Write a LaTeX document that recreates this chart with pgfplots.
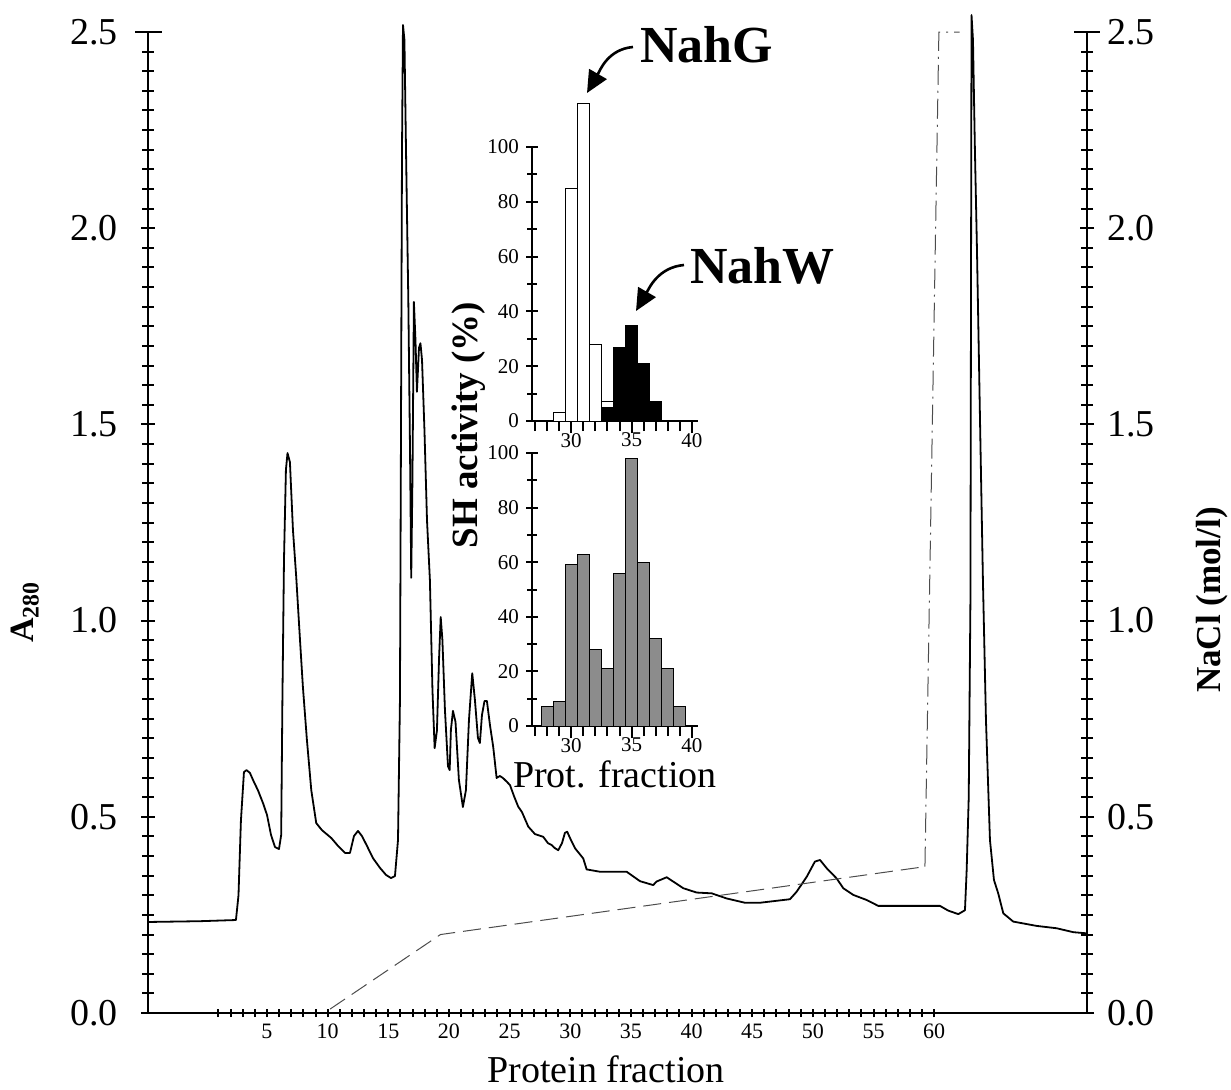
\documentclass[border=0pt]{standalone}
\usepackage{fontspec}
\setmainfont{Liberation Serif}
\usepackage{pgfplots}
\pgfplotsset{compat=1.18}
\usetikzlibrary{arrows.meta}

\pgfplotsset{
  base/.style={scale only axis, anchor=south west, clip=false,
    axis line style={line width=1pt},
    tick style={line width=1pt,black},
    /pgf/number format/assume math mode=true},
  noarrow/.style={x axis line style={-}, y axis line style={-}},
  mainbox/.style={base, at={(74pt,-506.5pt)}, width=469.5pt, height=490.5pt,
    xmin=-4.81, xmax=72.6, ymin=0, ymax=2.5},
  ylab/.style={ytick={0,0.5,1,1.5,2,2.5}, minor y tick num=9,
    tick align=outside, major tick length=7pt, minor tick length=6pt,
    yticklabel style={font=\fontsize{19}{19}\selectfont,
      /pgf/number format/fixed, /pgf/number format/fixed zerofill,
      /pgf/number format/precision=1}},
  inset/.style={base, width=83pt, xmin=26.75, xmax=40.5, ymin=0, ymax=100,
    axis x line=bottom, axis y line=left, noarrow,
    xtick={30,35,40}, minor xtick={27,...,40},
    ytick={0,20,...,100}, minor ytick={10,30,50,70,90},
    tick align=center, major tick length=6pt, minor tick length=5pt,
    ticklabel style={font=\fontsize{10.5}{10.5}\selectfont},
    xticklabel style={yshift=3.5pt},
    ybar, bar width=1, bar shift=0pt},
}

\begin{document}
\begin{tikzpicture}
\useasboundingbox (0,0) rectangle (615.5pt,-544.5pt);

% chromatogram, x axis
\begin{axis}[mainbox, axis x line=bottom, axis y line=none, noarrow,
  xtick={5,10,...,60}, minor xtick={1,...,60},
  tick align=center, major tick length=4pt, minor tick length=4pt,
  xticklabel style={font=\fontsize{11}{11}\selectfont}]
\addplot[black, line width=0.9pt, line join=round] coordinates {
(-4.81,0.232) (-0.53,0.234) (2.44,0.237) (2.65,0.30) (2.85,0.49) (3.10,0.614)
(3.31,0.619) (3.59,0.612) (3.92,0.589) (4.25,0.568) (4.67,0.535) (5.00,0.505)
(5.33,0.454) (5.66,0.423) (5.99,0.418) (6.17,0.454) (6.27,0.798) (6.40,1.154)
(6.56,1.384) (6.69,1.427) (6.89,1.404) (7.14,1.231) (7.41,1.111) (7.72,0.951)
(7.96,0.831) (8.29,0.696) (8.65,0.568) (9.06,0.484) (9.53,0.466) (10.30,0.446)
(10.85,0.426) (11.43,0.408) (11.84,0.408) (12.17,0.451) (12.50,0.464) (12.83,0.451)
(13.24,0.426) (13.73,0.395) (14.31,0.370) (14.81,0.352) (15.22,0.344) (15.55,0.349)
(15.80,0.441) (15.96,0.798) (16.04,1.435) (16.13,2.199) (16.21,2.518) (16.33,2.480)
(16.46,2.199) (16.65,1.817) (16.79,1.435) (16.89,1.109) (16.99,1.358) (17.11,1.812)
(17.24,1.715) (17.36,1.583) (17.53,1.695) (17.65,1.707) (17.78,1.664) (17.98,1.486)
(18.19,1.256) (18.43,1.103) (18.64,0.823) (18.82,0.675) (19.01,0.720) (19.18,0.900)
(19.32,1.009) (19.46,0.951) (19.67,0.772) (19.92,0.629) (20.06,0.619) (20.16,0.721)
(20.33,0.770) (20.54,0.742) (20.82,0.594) (21.15,0.525) (21.40,0.568) (21.65,0.747)
(21.92,0.866) (22.14,0.798) (22.39,0.701) (22.55,0.688) (22.72,0.759) (22.93,0.795)
(23.13,0.795) (23.38,0.734) (23.65,0.678) (23.93,0.599) (24.20,0.604) (24.45,0.599)
(24.78,0.589) (25.03,0.581) (25.36,0.553) (25.71,0.526) (26.02,0.512) (26.54,0.475)
(27.09,0.456) (27.77,0.449) (28.16,0.433) (28.47,0.428) (28.74,0.420) (29.01,0.415)
(29.32,0.433) (29.56,0.459) (29.75,0.462) (29.98,0.446) (30.39,0.420) (31.07,0.394)
(31.35,0.366) (32.45,0.360) (34.65,0.360) (35.75,0.336) (36.84,0.326) (37.11,0.335)
(37.95,0.346) (39.32,0.318) (40.42,0.307) (41.66,0.305) (42.89,0.292) (44.40,0.281)
(45.64,0.281) (48.11,0.290) (48.66,0.309) (49.49,0.347) (50.17,0.386) (50.59,0.390)
(51.14,0.369) (51.96,0.343) (52.51,0.318) (53.33,0.301) (54.44,0.288) (55.39,0.273)
(58.28,0.273) (60.48,0.273) (61.16,0.261) (61.99,0.252) (62.54,0.262) (62.68,0.364)
(62.85,0.550) (62.99,1.052) (63.08,2.543) (63.20,2.480) (63.36,2.199) (63.53,1.944)
(63.78,1.511) (64.02,1.103) (64.27,0.747) (64.60,0.441) (64.93,0.339) (65.28,0.305)
(65.70,0.254) (66.52,0.233) (68.45,0.222) (70.10,0.216) (71.47,0.206) (72.60,0.203)
};
% NaCl gradient
\addplot[black!70, line width=0.5pt, dash pattern=on 9pt off 4pt]
  coordinates {(10.2,0.01) (19.3,0.20) (59.24,0.373)};
\addplot[black!70, line width=0.5pt, dash pattern=on 10pt off 3pt on 1pt off 3pt]
  coordinates {(59.24,0.373) (60.39,2.5) (62.1,2.5)};
\end{axis}

% left A280 axis
\begin{axis}[mainbox, ylab, axis x line=none, axis y line=left, noarrow,
  yticklabel style={xshift=-8pt}]
\end{axis}
% right NaCl axis
\begin{axis}[mainbox, ylab, axis x line=none, axis y line=right, noarrow,
  yticklabel style={xshift=3pt}]
\end{axis}

% inset: NahG / NahW activity
\begin{axis}[inset, at={(266pt,-210.5pt)}, height=137pt]
\addplot[fill=white, draw=black, line width=0.5pt, bar shift=0pt]
  coordinates {(29,3) (30,85) (31,116) (32,28) (33,7)};
\addplot[fill=black, draw=black, line width=0.5pt, bar shift=0pt]
  coordinates {(33,5) (34,27) (35,35) (36,21) (37,7)};
\end{axis}

% inset: total SH activity
\begin{axis}[inset, at={(266pt,-363pt)}, height=136.5pt]
\addplot[fill=black!45, draw=black, line width=0.5pt, bar shift=0pt]
  coordinates {(28,7) (29,9) (30,59) (31,63) (32,28) (33,21) (34,56) (35,98)
               (36,60) (37,32) (38,21) (39,7)};
\end{axis}

\begin{scope}[x=0.5pt,y=-0.5pt]
\node[font=\fontsize{19}{19}\selectfont, anchor=base, inner sep=0pt] at (606,1082) {Protein fraction};
\node[font=\bfseries\fontsize{17}{17}\selectfont, rotate=90] at (25,612) {A\textsubscript{280}};
\node[font=\bfseries\fontsize{17.5}{17.5}\selectfont, rotate=90] at (1212,600) {NaCl (mol/l)};
\node[font=\bfseries\fontsize{18.5}{18.5}\selectfont, rotate=90, anchor=base] at (477,425) {SH activity (\%)};
\node[font=\fontsize{19}{19}\selectfont, anchor=base, inner sep=0pt] at (615,787) {Prot. fraction};
\node[font=\bfseries\fontsize{26}{26}\selectfont, anchor=base west, inner sep=0pt] at (640,62) {NahG};
\node[font=\bfseries\fontsize{26}{26}\selectfont, anchor=base west, inner sep=0pt] at (690,283) {NahW};
\draw[line width=1.3pt, -{Triangle[length=11pt,width=10pt]}] (633,47) to[out=185,in=60] (587,93);
\draw[line width=1.3pt, -{Triangle[length=11pt,width=10pt]}] (684,265) to[out=185,in=60] (636,311);
\draw[line width=1pt] (135,32) -- (162,32);
\draw[line width=1pt] (1074,32) -- (1100,32);
\end{scope}
\end{tikzpicture}
\end{document}
